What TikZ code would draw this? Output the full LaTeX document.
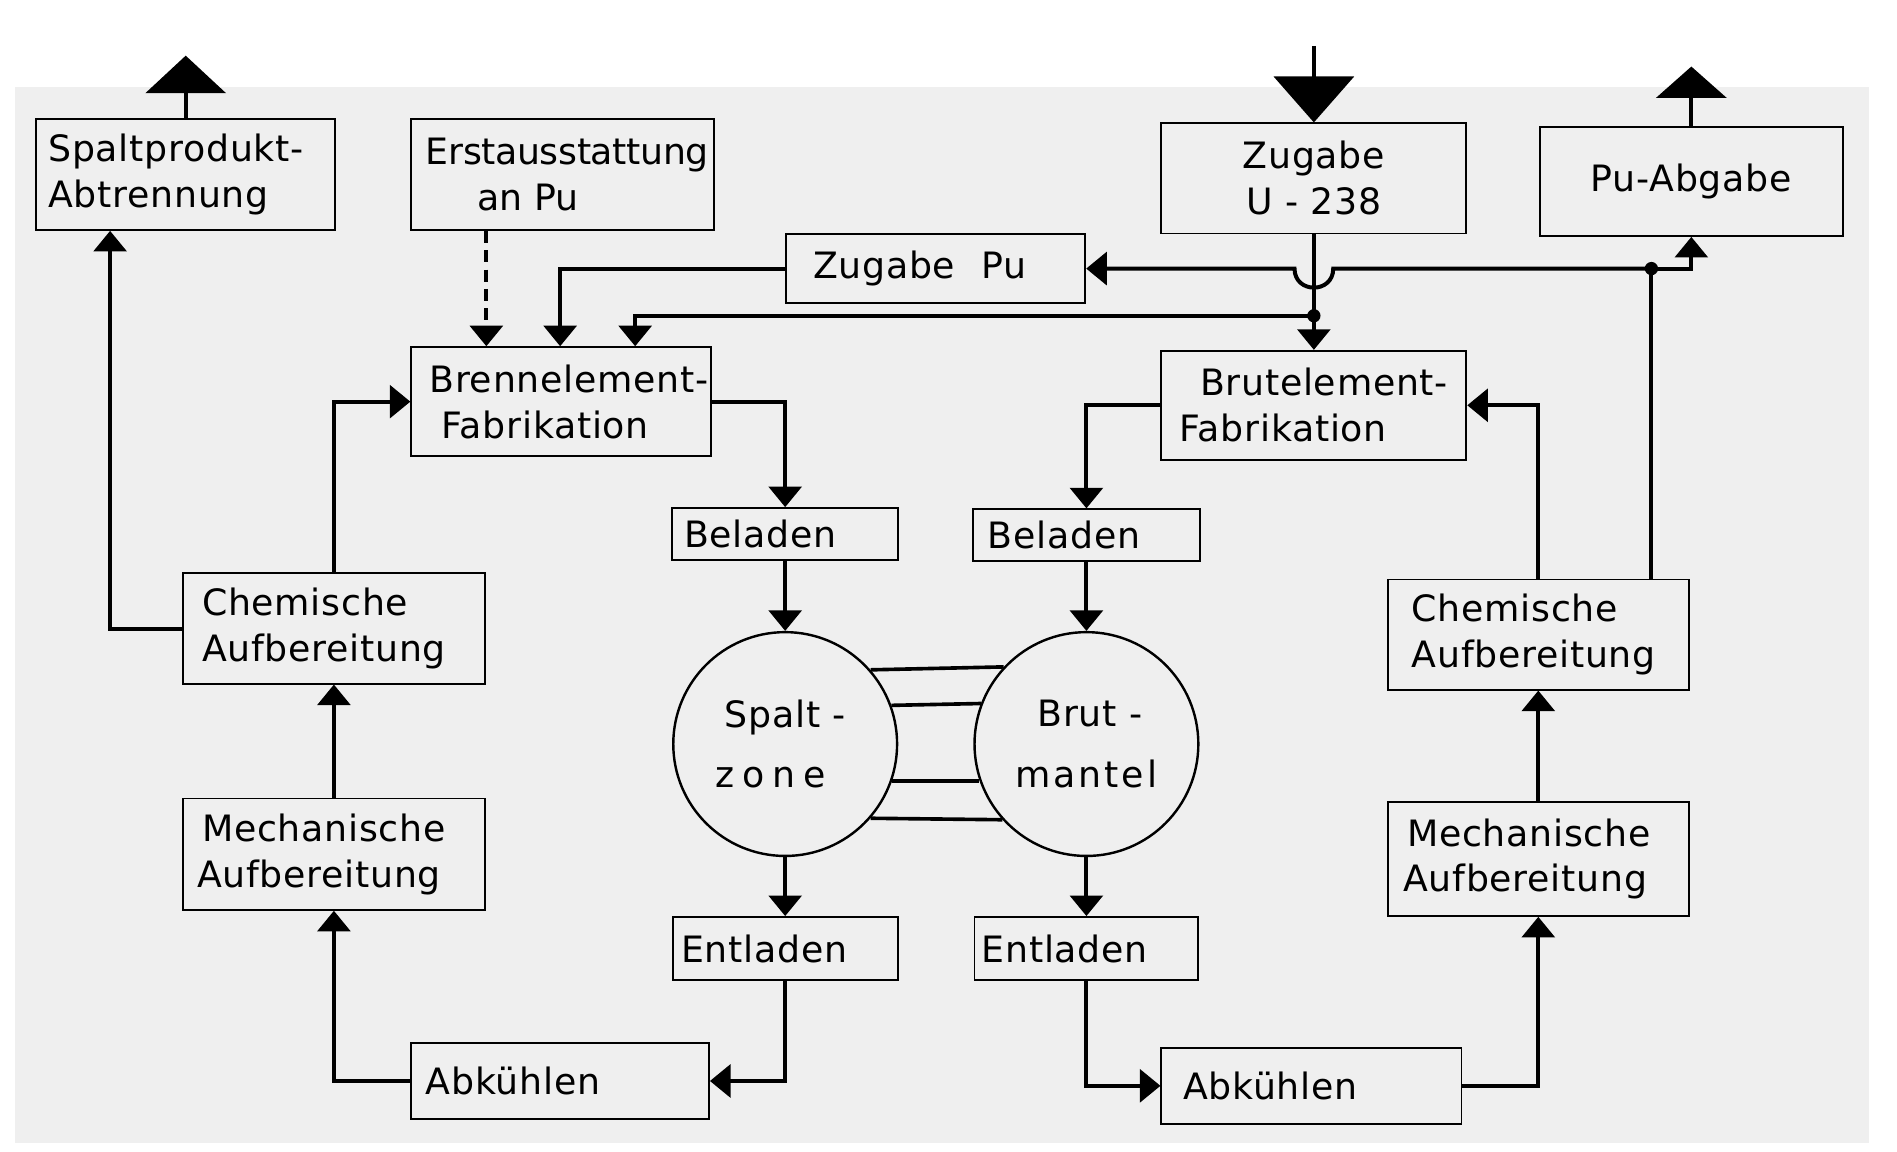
\documentclass[tikz,border=0pt]{standalone}
\usepackage{fontspec}
\setmainfont{DejaVu Sans}[LetterSpace=2]
\usetikzlibrary{arrows.meta,calc}
\definecolor{bg}{HTML}{EFEFEF}
\begin{document}
\begin{tikzpicture}[x=1pt,y=-1pt,font=\fontsize{30}{38}\selectfont,
  box/.style={draw, line width=1.6pt, fill=bg, inner sep=0pt},
  lbox/.style={box, align=left},
  conn/.style={line width=3.3pt, -{Triangle[length=17pt,width=27pt]}},
  plain/.style={line width=3.3pt},
  circ/.style={circle, draw, line width=2pt, fill=bg, inner sep=0pt, minimum size=185pt, align=center}]
\useasboundingbox (0,0) rectangle (1568,952);
\fill[white] (0,0) rectangle (1568,952);
\fill[bg] (12,72) rectangle (1545,945);

% column helpers
\coordinate (c91) at (91,0);
\coordinate (c402) at (402,0);
\coordinate (c463) at (463,0);
\coordinate (c525) at (525,0);
\coordinate (c1365) at (1365,0);
\coordinate (dot1) at (1086,261);
\coordinate (dot2) at (1365,222);
\coordinate (hopR) at (1102,222);
\coordinate (hopL) at (1070,222);
\coordinate (spout) at (153.5,46);
\coordinate (zuin) at (1086,38);
\coordinate (paout) at (1398,55);

% nodes  (text width = box width - 2 * left padding)
\node[lbox, minimum width=247pt, minimum height=92pt, text width=227pt] (sp) at (153.5,144) {Spaltprodukt-\\Abtrennung};
\node[lbox, minimum width=250pt, minimum height=92pt, text width=244pt] (ea) at (465,144) {\addfontfeature{LetterSpace=-1}\hspace*{9pt}Erstausstattung\\\hspace*{52pt}an Pu};
\node[box, minimum width=252pt, minimum height=91pt, align=center] (zu) at (1086,147.5) {Zugabe\\U - 238};
\node[box, minimum width=250pt, minimum height=90pt, align=center] (pa) at (1398,150) {Pu-Abgabe};
\node[lbox, minimum width=247pt, minimum height=57pt, text width=203pt] (zp) at (773.5,222) {Zugabe\hspace{22pt}Pu};
\node[lbox, minimum width=248pt, minimum height=90pt, text width=244pt] (bf) at (464,332) {\hspace*{13pt}Brennelement-\\\hspace*{23pt}Fabrikation};
\node[lbox, minimum width=252pt, minimum height=90pt, text width=222pt] (bt) at (1086,335) {\hspace*{17pt}Brutelement-\\Fabrikation};
\node[lbox, minimum width=187pt, minimum height=43pt, text width=167pt] (bl1) at (649,441.5) {Beladen};
\node[lbox, minimum width=187pt, minimum height=43pt, text width=163pt] (bl2) at (898,442.5) {Beladen};
\node[circ] (sz) at (649,615) {Spalt -\\[12pt]{\addfontfeature{LetterSpace=22}zone}\hspace*{24pt}};
\node[circ] (bm) at (898,615) {\hspace*{6pt}Brut -\\[12pt]{\addfontfeature{LetterSpace=8}mantel}};
\node[lbox, minimum width=186pt, minimum height=52pt, text width=172pt] (el1) at (649,784) {Entladen};
\node[lbox, minimum width=185pt, minimum height=52pt, text width=173pt] (el2) at (898,784) {Entladen};
\node[lbox, minimum width=246pt, minimum height=63pt, text width=222pt] (ak1) at (463,893.5) {Abkühlen};
\node[lbox, minimum width=248pt, minimum height=63pt, text width=212pt] (ak2) at (1084,897.5) {Abkühlen};
\node[lbox, minimum width=250pt, minimum height=91pt, text width=218pt] (ca1) at (276,519.5) {Chemische\\Aufbereitung};
\node[lbox, minimum width=250pt, minimum height=92pt, text width=226pt] (ma1) at (276,706) {\hspace*{4pt}Mechanische\\Aufbereitung};
\node[lbox, minimum width=249pt, minimum height=91pt, text width=209pt] (ca2) at (1271.5,524.5) {Chemische\\Aufbereitung};
\node[lbox, minimum width=249pt, minimum height=94pt, text width=223pt] (ma2) at (1271.5,710) {\hspace*{3pt}Mechanische\\Aufbereitung};

% big in/out arrows
\draw[plain, -{Triangle[length=31pt,width=66pt]}] (sp.north) -- (spout);
\draw[plain, -{Triangle[length=38pt,width=66pt]}] (zuin) -- (zu.north);
\draw[plain, -{Triangle[length=26pt,width=58pt]}] (pa.north) -- (paout);

% top feed lines
\draw[conn, dash pattern=on 10pt off 6pt] (ea.south -| c402) -- (bf.north -| c402);
\draw[conn] (zp.west) -| (bf.north -| c463);
\draw[conn] (dot1) -| (bf.north -| c525);
\draw[conn] (zu.south) -- (bt.north);
\draw[conn] (dot2) -- (hopR) .. controls ($(hopR)+(0,21)$) and ($(hopL)+(0,21)$) .. (hopL) -- (zp.east);
\draw[conn] (dot2) -| (pa.south);
\draw[plain] (ca2.north -| c1365) -- (dot2);
\fill (dot1) circle (5.5pt);
\fill (dot2) circle (5.5pt);

% left cycle
\draw[conn] (bf.east) -| (bl1.north);
\draw[conn] (bl1.south) -- (sz.north);
\draw[conn] (sz.south) -- (el1.north);
\draw[conn] (el1.south) |- (ak1.east);
\draw[conn] (ak1.west) -| (ma1.south);
\draw[conn] (ma1.north) -- (ca1.south);
\draw[conn] (ca1.north) |- (bf.west);
\draw[conn] (ca1.west) -| (sp.south -| c91);

% right cycle
\draw[conn] (bt.west) -| (bl2.north);
\draw[conn] (bl2.south) -- (bm.north);
\draw[conn] (bm.south) -- (el2.north);
\draw[conn] (el2.south) |- (ak2.west);
\draw[conn] (ak2.east) -| (ma2.south);
\draw[conn] (ma2.north) -- (ca2.south);
\draw[conn] (ca2.north) |- (bt.east);

% links between core and blanket
\draw[line width=3pt] (sz.41.8) -- (bm.137.6);
\draw[line width=3pt] (sz.20.1) -- (bm.159.6);
\draw[line width=3pt] (sz.-19.5) -- (bm.199.7);
\draw[line width=3pt] (sz.-41.8) -- (bm.222.4);
\end{tikzpicture}
\end{document}
